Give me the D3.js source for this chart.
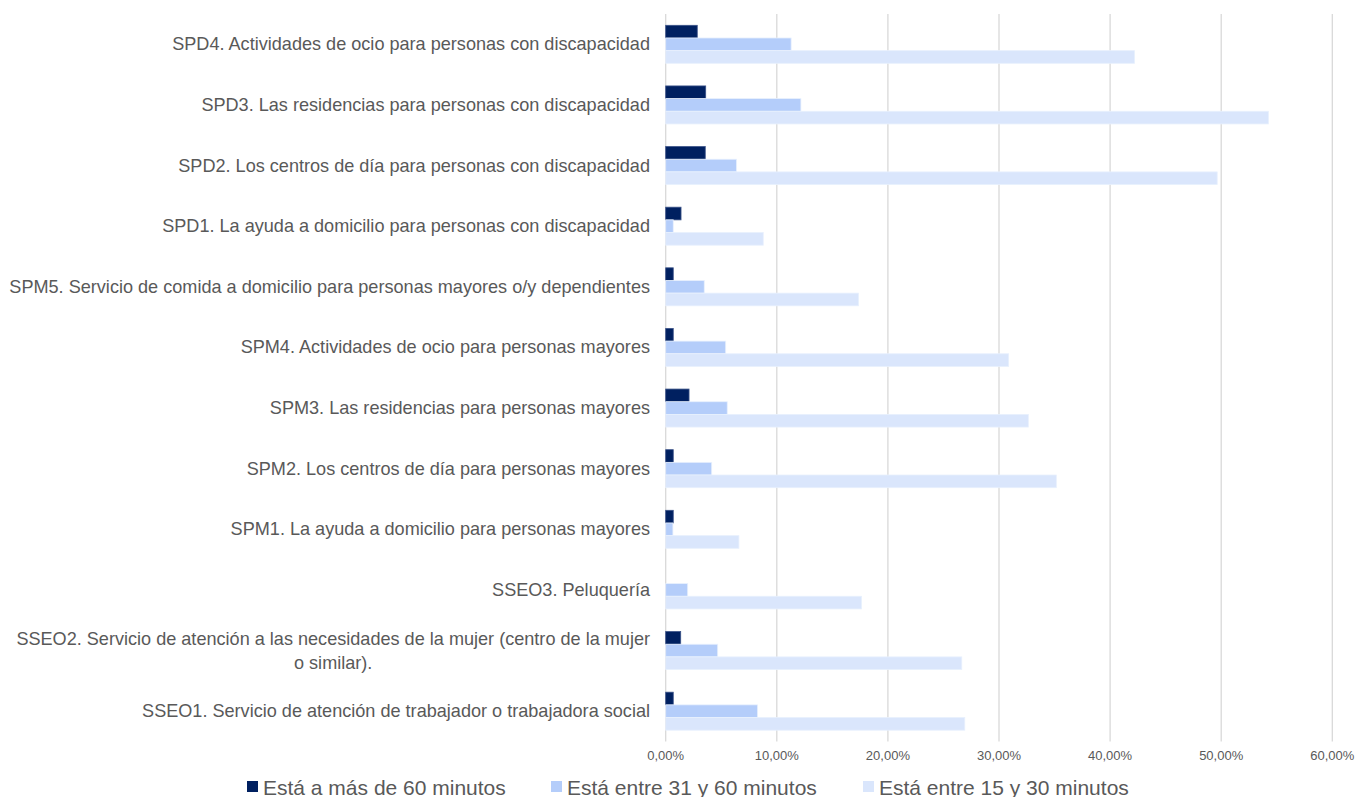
<!DOCTYPE html>
<html>
<head>
<meta charset="utf-8">
<script src="https://cdn.jsdelivr.net/npm/d3@7"></script>
<style>
  html, body { margin: 0; padding: 0; background: #ffffff; }
  svg { display: block; font-family: "Liberation Sans", Arial, sans-serif; }
</style>
</head>
<body>
<svg id="chart" width="1356" height="797"></svg>
<script>
// Categories, top to bottom
const categories = [
  "SPD4. Actividades de ocio para personas con discapacidad",
  "SPD3. Las residencias para personas con discapacidad",
  "SPD2. Los centros de día para personas con discapacidad",
  "SPD1. La ayuda a domicilio para personas con discapacidad",
  "SPM5. Servicio de comida a domicilio para personas mayores o/y dependientes",
  "SPM4. Actividades de ocio para personas mayores",
  "SPM3. Las residencias para personas mayores",
  "SPM2. Los centros de día para personas mayores",
  "SPM1. La ayuda a domicilio para personas mayores",
  "SSEO3. Peluquería",
  "SSEO2. Servicio de atención a las necesidades de la mujer (centro de la mujer|o similar).",
  "SSEO1. Servicio de atención de trabajador o trabajadora social"
];
const seriesNames = ["Está a más de 60 minutos", "Está entre 31 y 60 minutos", "Está entre 15 y 30 minutos"];
const masDe60 =   [2.84, 3.60, 3.56, 1.38, 0.68, 0.68, 2.10, 0.68, 0.68, 0.00, 1.35, 0.68];
const entre31y60 = [11.29, 12.17, 6.38, 0.68, 3.47, 5.40, 5.54, 4.14, 0.65, 1.98, 4.68, 8.27];
const entre15y30 = [42.20, 54.25, 49.64, 8.78, 17.36, 30.87, 32.64, 35.16, 6.59, 17.63, 26.65, 26.92];
const xTicks = [0, 10, 20, 30, 40, 50, 60];
const colors = ["#002060", "#b4cdfa", "#dae6fc"];

const series = [masDe60, entre31y60, entre15y30];

const svg = d3.select("#chart");
const plot = { left: 665.7, right: 1332.3, top: 14, bottom: 741.5 };

const x = d3.scaleLinear().domain([0, 60]).range([plot.left, plot.right]);
const y = d3.scaleBand().domain(d3.range(categories.length)).range([plot.top, plot.bottom]).padding(0);
const groupH = 38;
const ySub = d3.scaleBand().domain(d3.range(series.length)).range([0, groupH]).padding(0);

const locale = d3.formatLocale({ decimal: ",", thousands: ".", grouping: [3], currency: ["", "€"] });
const fmt = locale.format(".2f");

// gridlines
svg.append("g").selectAll("line").data(xTicks).join("line")
  .attr("x1", d => x(d)).attr("x2", d => x(d))
  .attr("y1", plot.top).attr("y2", plot.bottom)
  .attr("stroke", "#d9d9d9").attr("stroke-width", 1.3);

// bars
const groups = svg.append("g").selectAll("g").data(categories).join("g")
  .attr("transform", (d, i) => `translate(0,${y(i) + (y.bandwidth() - groupH) / 2})`);
groups.selectAll("rect").data((d, i) => series.map((s, k) => ({ k, v: s[i] })))
  .join("rect")
  .attr("x", x(0))
  .attr("y", d => ySub(d.k))
  .attr("height", ySub.bandwidth())
  .attr("width", d => Math.max(0, x(d.v) - x(0)))
  .attr("fill", d => colors[d.k])
  .attr("stroke", d => d.v > 0 ? (d.k === 0 ? "#3a5288" : "#e8f0fd") : "none")
  .attr("stroke-width", 0.8);

// axis tick labels
svg.append("g").selectAll("text").data(xTicks).join("text")
  .attr("x", d => x(d)).attr("y", 760)
  .attr("text-anchor", "middle")
  .attr("font-size", 13).attr("fill", "#595959")
  .text(d => fmt(d) + "%");

// category labels
const labelSize = 18.1;
const labelG = svg.append("g");
categories.forEach((c, i) => {
  const lines = c.split("|");
  const cy = y(i) + y.bandwidth() / 2;
  const lh = 24;
  const t = labelG.append("text")
    .attr("font-size", labelSize).attr("fill", "#595959");
  if (lines.length === 1) {
    t.attr("text-anchor", "end").attr("x", 650).attr("y", cy + 6).text(lines[0]);
  } else {
    const tmp = labelG.append("text").attr("font-size", labelSize).text(lines[0]);
    const w = tmp.node().getComputedTextLength();
    tmp.remove();
    lines.forEach((ln, j) => {
      t.append("tspan")
        .attr("x", 650 - w / 2)
        .attr("y", cy + 6 + (j - (lines.length - 1) / 2) * lh)
        .attr("text-anchor", "middle")
        .text(ln);
    });
  }
});

// legend
const legendX = [247, 551, 863];
const lg = svg.append("g").selectAll("g").data(seriesNames).join("g")
  .attr("transform", (d, i) => `translate(${legendX[i]},0)`);
lg.append("rect").attr("x", 0).attr("y", 781).attr("width", 11).attr("height", 11)
  .attr("fill", (d, i) => colors[i]);
lg.append("text").attr("x", 16).attr("y", 795)
  .attr("font-size", 21).attr("fill", "#595959").text(d => d);
</script>
</body>
</html>
